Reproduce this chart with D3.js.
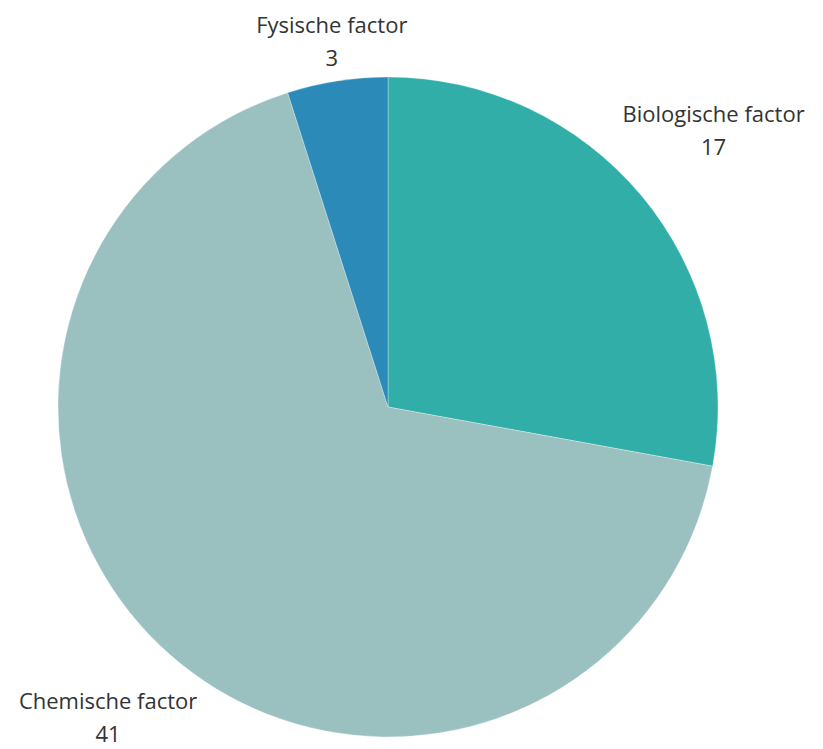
<!doctype html>
<html>
    <head>
        <meta charset="utf-8">
        <script src="https://d3js.org/d3.v7.min.js"></script>
        <style type="text/css">
            body {
                margin:0;
                background:#fff;
            }
            svg {
                display:block;
            }
            text {
                fill:#333;
                font-size:22px;
                font-family:"Open Sans",Lato,sans-serif;
                text-anchor:middle;
            }
        </style>
    </head>
    <body>
        <script>
            //chart data
            var categories = ["Biologische factor", "Chemische factor", "Fysische factor"];
            var values = [17, 41, 3];
            var colors = ["#32aea9", "#9ac1c0", "#2c8ab8"];

            var width = 823, height = 749;
            var cx = 388, cy = 407, radius = 330;
            var labelRadius = 424;

            var svg = d3.select("body").append("svg")
                .attr("width", width)
                .attr("height", height);

            var data = categories.map(function(c, i) {
                return {name: c, value: values[i], color: colors[i]};
            });

            var pie = d3.pie().sort(null).value(function(d) { return d.value; });
            var arc = d3.arc().innerRadius(0).outerRadius(radius);
            var arcs = pie(data);

            var g = svg.append("g").attr("transform", "translate(" + cx + "," + cy + ")");

            g.selectAll("path")
                .data(arcs)
                .enter()
                .append("path")
                .attr("d", arc)
                .attr("fill", function(d) { return d.data.color; })
                .attr("stroke", "#fff")
                .attr("stroke-width", 0.5)
                .attr("stroke-opacity", 0.6);

            //labels on mid angle, kept inside the picture
            var labels = g.selectAll("g.label")
                .data(arcs)
                .enter()
                .append("g")
                .attr("class", "label")
                .attr("transform", function(d) {
                    var a = (d.startAngle + d.endAngle) / 2;
                    var x = labelRadius * Math.sin(a);
                    var y = -labelRadius * Math.cos(a);
                    var minY = 46 - cy;
                    var maxY = 722 - cy;
                    if (y < minY) {
                        y = minY;
                        x = -y * Math.tan(a);
                    }
                    if (y > maxY) y = maxY;
                    return "translate(" + x + "," + y + ")";
                });

            labels.append("text")
                .attr("y", -13)
                .text(function(d) { return d.data.name; });

            labels.append("text")
                .attr("y", 20)
                .text(function(d) { return d.data.value; });
        </script>
    </body>
</html>
